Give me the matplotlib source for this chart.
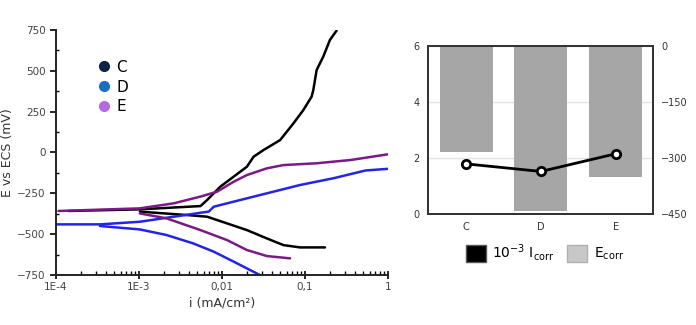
import matplotlib.pyplot as plt
import numpy as np
from matplotlib.patches import Patch
from matplotlib.lines import Line2D
from matplotlib.ticker import FixedLocator, LogLocator, NullFormatter

# Tafel curves: log10(i) and E (mV), anodic and cathodic branches
c_an_logi = [-3.85, -2.99, -2.26, -2.18, -2.02, -1.86, -1.70, -1.62, -1.50, -1.30,
             -1.14, -1.02, -0.92, -0.90, -0.86, -0.78, -0.70, -0.62]
c_an_E = [-358, -348, -328, -291, -209, -148, -87, -26, 15, 76,
          178, 260, 342, 383, 505, 587, 689, 746]
c_ca_logi = [-2.99, -2.42, -2.18, -1.94, -1.70, -1.46, -1.26, -1.06, -0.76]
c_ca_E = [-362, -383, -393, -434, -475, -526, -567, -581, -581]

d_an_logi = [-4.0, -3.47, -2.99, -2.58, -2.26, -2.16, -2.10, -1.86, -1.46, -1.06, -0.66, -0.27, 0.0]
d_an_E = [-440, -440, -424, -393, -369, -362, -332, -301, -250, -199, -158, -110, -100]
d_ca_logi = [-3.47, -2.99, -2.67, -2.35, -2.10, -1.86, -1.66, -1.52]
d_ca_E = [-450, -471, -505, -556, -607, -668, -720, -756]

e_an_logi = [-3.97, -2.99, -2.58, -2.26, -2.06, -1.86, -1.70, -1.46, -1.26, -0.86, -0.45, 0.0]
e_an_E = [-358, -342, -311, -270, -240, -179, -138, -97, -77, -66, -46, -11]
e_ca_logi = [-2.99, -2.67, -2.26, -1.94, -1.70, -1.46, -1.18]
e_ca_E = [-373, -403, -475, -536, -597, -634, -648]

# summary values per sample
samples = ['C', 'D', 'E']
icorr = [1.79, 1.52, 2.15]        # x 10^-3
ecorr = [-284, -442, -352]        # mV

fig = plt.figure(figsize=(6.96, 3.25), dpi=100)
fig.patch.set_facecolor('white')

# ---- polarization curves
ax = fig.add_axes([0.0805, 0.1538, 0.477, 0.754])
curves = [
    (c_an_logi, c_an_E, c_ca_logi, c_ca_E, 'black'),
    (d_an_logi, d_an_E, d_ca_logi, d_ca_E, '#2424e6'),
    (e_an_logi, e_an_E, e_ca_logi, e_ca_E, '#7b1a86'),
]
for la, ea, lc, ec, col in curves:
    ax.plot(10 ** np.array(la), ea, color=col, lw=1.8, solid_capstyle='round')
    ax.plot(10 ** np.array(lc), ec, color=col, lw=1.8, solid_capstyle='round')

ax.set_xscale('log')
ax.set_xlim(1e-4, 1)
ax.set_ylim(-750, 750)
ax.set_xticks([1e-4, 1e-3, 1e-2, 1e-1, 1])
ax.set_xticklabels(['1E-4', '1E-3', '0,01', '0,1', '1'])
ax.xaxis.set_minor_locator(LogLocator(base=10, subs=np.arange(2, 10)))
ax.xaxis.set_minor_formatter(NullFormatter())
ax.set_yticks([-750, -500, -250, 0, 250, 500, 750])
ax.yaxis.set_minor_locator(FixedLocator([-625, -375, -125, 125, 375, 625]))
for s in ['top', 'right']:
    ax.spines[s].set_visible(False)
for s in ['left', 'bottom']:
    ax.spines[s].set_linewidth(1.4)
    ax.spines[s].set_color('#222222')
ax.tick_params(axis='x', which='major', direction='inout', length=6, width=1.2,
               labelsize=7.5, labelcolor='#444444', pad=2)
ax.tick_params(axis='x', which='minor', direction='in', length=3, width=1)
ax.tick_params(axis='y', which='major', direction='out', length=4, width=1.2,
               labelsize=7.5, labelcolor='#444444')
ax.tick_params(axis='y', which='minor', direction='in', length=2.5, width=1)
ax.set_xlabel('i (mA/cm²)', fontsize=9, color='#333333', labelpad=3)
ax.set_ylabel('E vs ECS (mV)', fontsize=9, color='#333333', labelpad=2)

leg_cols = ['#0d2145', '#1a6fc4', '#b56be0']
handles = [Line2D([], [], ls='none', marker='o', ms=7, mfc=c, mec=c) for c in leg_cols]
ax.legend(handles, samples, loc='upper left', bbox_to_anchor=(0.08, 0.935),
          frameon=False, fontsize=11, handletextpad=0.3, labelspacing=0.32,
          handlelength=1.0)

# ---- Ecorr bars with Icorr line
bx = fig.add_axes([0.615, 0.3415, 0.3233, 0.517])
bx2 = bx.twinx()
x = np.arange(len(samples))
bx2.bar(x, ecorr, width=0.71, color='#a6a6a6', zorder=2)
bx2.set_ylim(-450, 0)
bx2.set_yticks([-450, -300, -150, 0])
bx2.grid(axis='y', color='#e2e2e2', lw=1, zorder=0)
bx2.set_axisbelow(True)
bx.set_ylim(0, 6)
bx.set_yticks([0, 2, 4, 6])
bx.set_xlim(-0.51, 2.5)
bx.set_xticks(x)
bx.set_xticklabels(samples)
bx.set_zorder(bx2.get_zorder() + 1)
bx.patch.set_visible(False)
bx.plot(x, icorr, color='black', lw=2, marker='o', ms=6, mfc='white',
        mec='black', mew=2, zorder=5)
for a in (bx, bx2):
    for s in a.spines.values():
        s.set_linewidth(1.3)
        s.set_color('#333333')
    a.tick_params(length=0, labelsize=7, labelcolor='#333333', pad=6)
bx.tick_params(axis='x', pad=6)

leg_handles = [Patch(facecolor='black', edgecolor='#555555'),
               Patch(facecolor='#c8c8c8', edgecolor='#b0b0b0')]
fig.legend(leg_handles,
           ['10$^{\\mathregular{-3}}$ I$_{\\mathregular{corr}}$',
            'E$_{\\mathregular{corr}}$'],
           loc='center', bbox_to_anchor=(0.783, 0.222), ncol=2, frameon=False,
           fontsize=10, handlelength=1.45, handleheight=1.5, handletextpad=0.45,
           columnspacing=0.9)

fig.savefig('out.png', dpi=100)
